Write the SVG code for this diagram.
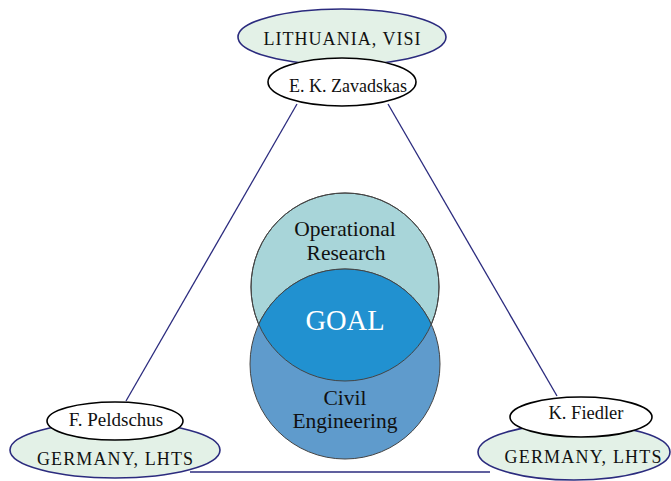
<svg xmlns="http://www.w3.org/2000/svg" width="671" height="481" viewBox="0 0 671 481">
<style>
.conn{stroke:#2b2b7e;stroke-width:1.3;fill:none}
.org{fill:#e3f1e7;stroke:#2b2b7e;stroke-width:1.6}
.per{fill:#ffffff;stroke:#000;stroke-width:1.6}
.t{font-family:"Liberation Serif","Times New Roman",serif;fill:#111;text-anchor:middle}
.c{stroke:#444;stroke-width:1}
</style>
<defs>
<clipPath id="clipTop"><circle cx="345" cy="287" r="94"/></clipPath>
</defs>
<g id="connectors">
<line class="conn" x1="297" y1="104" x2="126" y2="401"/>
<line class="conn" x1="388" y1="104" x2="557" y2="396"/>
<line class="conn" x1="190" y1="472" x2="490" y2="472"/>
</g>
<g id="lithuania">
<ellipse class="org" cx="342" cy="37" rx="104" ry="28"/>
<text class="t" x="342" y="45" font-size="18" textLength="157" lengthAdjust="spacing">LITHUANIA, VISI</text>
</g>
<g id="zavadskas">
<ellipse class="per" cx="342" cy="82" rx="74" ry="24"/>
<text class="t" x="348" y="92" font-size="18">E. K. Zavadskas</text>
</g>
<g id="germany-left">
<ellipse class="org" cx="115" cy="450" rx="105" ry="28"/>
<text class="t" x="115" y="465" font-size="18" textLength="156" lengthAdjust="spacing">GERMANY, LHTS</text>
</g>
<g id="peldschus">
<ellipse class="per" cx="115" cy="421" rx="68" ry="19"/>
<text class="t" x="116" y="426" font-size="19">F. Peldschus</text>
</g>
<g id="germany-right">
<ellipse class="org" cx="574" cy="452" rx="96" ry="28"/>
<text class="t" x="583" y="463" font-size="18" textLength="157" lengthAdjust="spacing">GERMANY, LHTS</text>
</g>
<g id="fiedler">
<ellipse class="per" cx="581" cy="417" rx="71" ry="20"/>
<text class="t" x="586" y="419" font-size="18.5">K. Fiedler</text>
</g>
<g id="operational-research">
<circle class="c" cx="345" cy="287" r="94" fill="#a8d5d9"/>
</g>
<g id="civil-engineering">
<circle class="c" cx="345" cy="364" r="95" fill="#5f9bcc"/>
</g>
<g id="goal">
<circle cx="345" cy="364" r="95" fill="#2191d0" clip-path="url(#clipTop)" class="c"/>
<circle cx="345" cy="287" r="94" fill="none" class="c"/>
<text class="t" x="345" y="330" font-size="28.5" style="fill:#ffffff">GOAL</text>
</g>
<g id="labels">
<text class="t" x="345" y="236" font-size="21.5">Operational</text>
<text class="t" x="346" y="260" font-size="21.5">Research</text>
<text class="t" x="345" y="405" font-size="21.5">Civil</text>
<text class="t" x="345" y="428" font-size="21.5">Engineering</text>
</g>
</svg>
